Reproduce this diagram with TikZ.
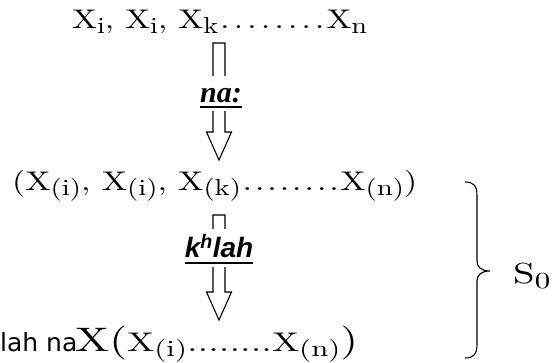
\documentclass[tikz,border=0pt]{standalone}
\usepackage{fontspec}
\usepackage{graphicx}
\usetikzlibrary{calc}
\setmainfont{lmroman10-regular.otf}
\newfontfamily\lahfont{DejaVu Sans}
\newfontfamily\lblsans{Liberation Sans}
\newfontfamily\lblserif{Liberation Serif}
\newcommand\dotrow[1]{\hbox{\count255=0 \loop\hbox to #1{\hss.\hss}\advance\count255 by 1 \ifnum\count255<8 \repeat}}
\newcommand\sbs[1]{\raisebox{-5pt}{\fontsize{23}{26}\selectfont #1}}
\newcommand\myul[3]{\setbox0=\hbox{#1}\rlap{\vrule height -#2 depth #3 width \wd0}\box0}
\newcommand\hollowarrow[2]{%
  \draw[arrowline] let \p1=(#1), \p2=(#2) in
    (\x1-6pt,\y1) -- (\x1+6pt,\y1) -- (\x1+6pt,\y2+28pt) -- (\x1+12.5pt,\y2+28pt)
    -- (\x2,\y2) -- (\x1-12.5pt,\y2+28pt) -- (\x1-6pt,\y2+28pt) -- cycle;}
\begin{document}
\begin{tikzpicture}[x=1pt,y=-1pt,
  txt/.style={inner sep=0pt, anchor=base west, font=\fontsize{27}{31}\selectfont},
  arrowline/.style={draw=black, line width=1.1pt, line join=miter, fill=white},
  lbl/.style={inner sep=0pt, anchor=base, fill=white}]
\useasboundingbox (0,0) rectangle (552,363);
% lines of text
\node[txt] (l1) at (72,29) {\resizebox{295pt}{\height}{X\sbs{i}, X\sbs{i}, X\sbs{k}\dotrow{11pt}X\sbs{n}}};
\node[txt] (l2) at (12,191) {\resizebox{405pt}{\height}{(X\sbs{(i)}, X\sbs{(i)}, X\sbs{(k)}\dotrow{9.9pt}X\sbs{(n)})}};
\node[inner sep=0pt, anchor=base west, font=\lahfont\fontsize{25}{29}\selectfont] (lah) at (0,352) {lah na};
\node[txt] (l3) at (75,352) {\resizebox{283pt}{\height}{{\fontsize{34}{40}\selectfont X(}X\sbs{(i)}\dotrow{7.9pt}X\sbs{(n)}{\fontsize{34}{40}\selectfont)}}};
% arrows
\coordinate (a1top) at (219,43);
\coordinate (a1tip) at (219,160);
\coordinate (a2top) at (219,215);
\coordinate (a2tip) at (219,320);
\hollowarrow{a1top}{a1tip}
\hollowarrow{a2top}{a2tip}
\node[lbl, text height=27pt, text depth=8pt, font=\lblserif\bfseries\itshape\fontsize{30}{34}\selectfont] (na) at (221,103) {\myul{na:}{3pt}{5pt}};
\node[lbl, text height=29pt, text depth=9pt, font=\lblsans\bfseries\itshape\fontsize{28}{32}\selectfont] (kh) at (219,258) {\myul{k\textsuperscript{h}lah}{4pt}{6pt}};
% brace
\draw[line width=1.1pt] (465,182) .. controls (474,182) and (477,186) .. (477,196) -- (477,261)
  .. controls (477,267) and (481,271) .. (490,271)
  .. controls (481,271) and (477,275) .. (477,281) -- (477,344)
  .. controls (477,354) and (474,358) .. (465,358);
\node[txt, font=\fontsize{29}{33}\selectfont] (s0) at (513,284) {\resizebox{37pt}{\height}{S\sbs{0}}};
\end{tikzpicture}
\end{document}
